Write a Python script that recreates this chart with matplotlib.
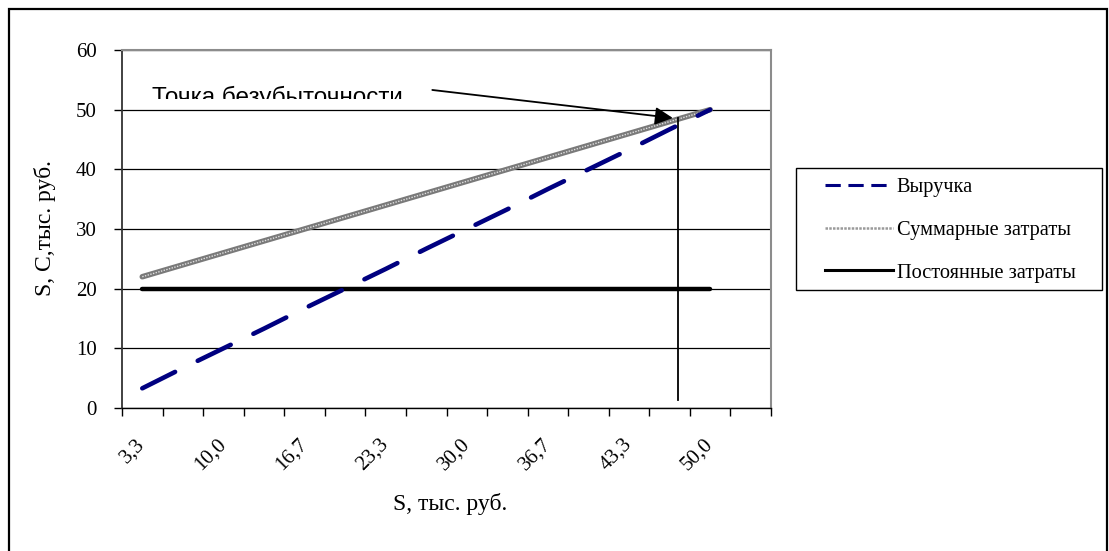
import matplotlib.pyplot as plt
from matplotlib.lines import Line2D
from matplotlib.patches import Rectangle
from matplotlib.transforms import Bbox, TransformedBbox

# S values (categories), thousands of rubles
categories = ["3,3", "6,7", "10,0", "13,3", "16,7", "20,0", "23,3", "26,7",
              "30,0", "33,3", "36,7", "40,0", "43,3", "46,7", "50,0", ""]
revenue = [3.3, 6.7, 10.0, 13.3, 16.7, 20.0, 23.3, 26.7,
           30.0, 33.3, 36.7, 40.0, 43.3, 46.7, 50.0]
total_costs = [22.0, 24.0, 26.0, 28.0, 30.0, 32.0, 34.0, 36.0,
               38.0, 40.0, 42.0, 44.0, 46.0, 48.0, 50.0]
fixed_costs = [20.0] * 15

W, H = 1109, 551
fig = plt.figure(figsize=(W / 100, H / 100), dpi=100)
fig.patch.set_facecolor("white")
ax = fig.add_axes([122 / W, 1 - 408 / H, (771 - 122) / W, (408 - 50) / H])

serif = ["Liberation Serif", "DejaVu Serif"]
x = list(range(len(revenue)))

ax.plot(x, fixed_costs, color="black", lw=3.2, solid_capstyle="round", zorder=3)
ax.plot(x, total_costs, color="#7a7a7a", lw=4.0, solid_capstyle="round", zorder=4)
ax.plot(x, total_costs, color="#e0e0e0", lw=1.0, ls=(0, (1, 1)), zorder=5)
ax.plot(x, revenue, color="#000080", lw=3.3, ls=(0, (8, 5.5)),
        dash_capstyle="round", zorder=6)

# break-even annotation
be_x, be_y = 13.2, 48.6
ax.plot([be_x, be_x], [be_y, 1.3], color="black", lw=1.3, zorder=7)
ax.annotate("", xy=(13.08, 48.6), xytext=(7.15, 53.3),
            arrowprops=dict(arrowstyle="-|>", color="black", lw=1.3,
                            mutation_scale=27, shrinkA=0, shrinkB=0),
            zorder=8)
t = fig.text(152 / W, 1 - 104 / H, "Точка безубыточности", fontsize=17.5,
             family=["Liberation Sans", "DejaVu Sans"], va="baseline", ha="left")
t.set_clip_box(TransformedBbox(Bbox.from_extents(0, 1 - 99 / H, 1, 1),
                               fig.transFigure))
t.set_clip_on(True)

ax.set_xlim(-0.5, len(categories) - 0.5)
ax.set_ylim(0, 60)
ax.set_yticks(range(0, 61, 10))
ax.grid(axis="y", color="black", lw=0.9)
ax.set_axisbelow(True)

ax.set_xticks([i - 0.5 for i in range(len(categories) + 1)])
ax.set_xticklabels([])
ax.set_xticks(range(len(categories)), minor=True)
ax.set_xticklabels([c if i % 2 == 0 else "" for i, c in enumerate(categories)],
                   minor=True, rotation=45, ha="right", va="center",
                   rotation_mode="anchor", family=serif, fontsize=15)
ax.tick_params(axis="x", which="major", length=6, width=1, direction="out")
ax.tick_params(axis="x", which="minor", length=0, pad=24)
ax.tick_params(axis="y", length=6, width=1, pad=12, labelsize=15)
for lab in ax.get_yticklabels():
    lab.set_family(serif)

for side in ("top", "right"):
    ax.spines[side].set_color("#8c8c8c")
    ax.spines[side].set_linewidth(1.5)
ax.spines["left"].set_color("#333333")
ax.spines["left"].set_linewidth(1.3)
ax.spines["bottom"].set_linewidth(1.0)

fig.text(450 / W, 1 - 504 / H, "S, тыс. руб.", family=serif, fontsize=17,
         ha="center", va="center")
fig.text(45 / W, 1 - 228 / H, "S, C,тыс. руб.", family=serif, fontsize=17,
         ha="center", va="center", rotation=90)

handles = [
    Line2D([], [], color="#000080", lw=2.2, ls=(0, (5, 2.5))),
    Line2D([], [], color="#9a9a9a", lw=1.8, ls=(0, (1, 0.5))),
    Line2D([], [], color="black", lw=2.2),
]
labels = ["Выручка", "Суммарные затраты", "Постоянные затраты"]
leg_fs = 14.7
leg = fig.legend(handles, labels, loc="upper left",
                 bbox_to_anchor=(815 / W, 1 - 168 / H),
                 prop={"family": serif, "size": leg_fs},
                 frameon=False, handlelength=3.33,
                 handletextpad=0.2, labelspacing=1.15, borderpad=0.48,
                 borderaxespad=0)
fig.add_artist(Rectangle((796 / W, 1 - 290 / H), (1102 - 796) / W, 122 / H,
                         transform=fig.transFigure, fill=False,
                         edgecolor="black", lw=1.0))

fig.add_artist(Rectangle((9 / W, -0.05), (1107 - 9) / W, 1.05 - 9 / H,
                         transform=fig.transFigure, fill=False,
                         edgecolor="black", lw=1.6, clip_on=False))

fig.savefig("out.png", dpi=100)
